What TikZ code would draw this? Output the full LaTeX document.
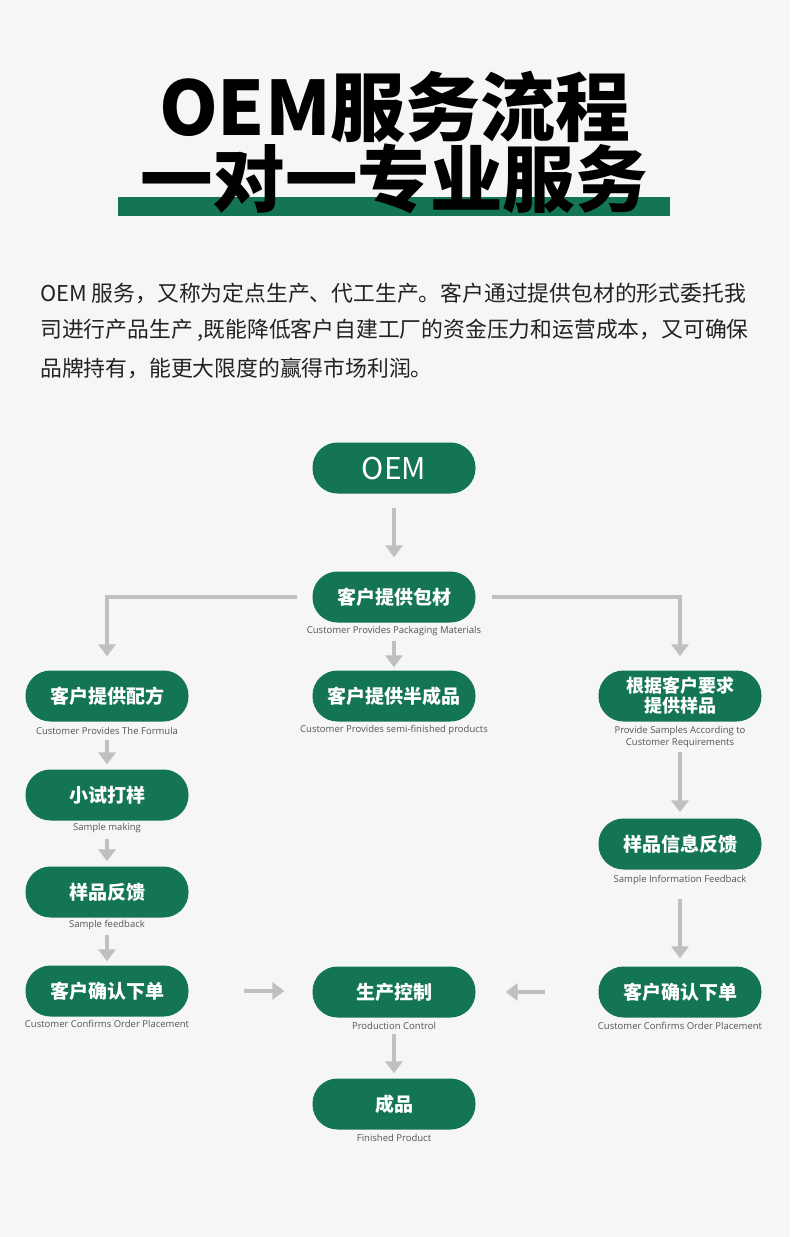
\documentclass[tikz,border=0pt]{standalone}
\usepackage{fontspec}
\setmainfont{Open Sans}
\newfontfamily\cjk{Noto Sans CJK SC}
\usetikzlibrary{arrows.meta}
\definecolor{bg}{RGB}{246,246,246}
\definecolor{gr}{RGB}{19,117,82}
\definecolor{ar}{RGB}{192,192,192}
\definecolor{tx}{RGB}{34,34,34}
\definecolor{subc}{RGB}{85,85,85}
\begin{document}
\begin{tikzpicture}[x=1pt,y=-1pt,
  pill/.style={fill=gr, rounded corners=25pt, minimum width=163pt, minimum height=51pt,
    inner sep=0pt, text=white, font=\cjk\bfseries\fontsize{19}{22}\selectfont, align=center},
  sublbl/.style={text=subc, font=\fontsize{9.5}{12}\selectfont, inner sep=0pt, align=center},
  para/.style={text=tx, font=\cjk\fontsize{21.8}{24}\selectfont, inner sep=0pt, anchor=west},
  ttl/.style={text=black, font=\cjk\bfseries\fontsize{75}{80}\selectfont, inner sep=0pt},
  flow/.style={draw=ar, line width=4pt, -{Triangle[width=17pt,length=12pt]}}]
\useasboundingbox (0,0) rectangle (790,1237);
\fill[bg] (0,0) rectangle (790,1237);
% title
\fill[gr] (118,197) rectangle (670,216);
\node[ttl] (t1) at (395,107) {OEM服务流程};
\node[ttl, font=\cjk\bfseries\fontsize{72.5}{80}\selectfont] (t2) at (394,179) {一对一专业服务};
% paragraph
\node[para] (p1) at (40,293) {OEM 服务，又称为定点生产、代工生产。客户通过提供包材的形式委托我};
\node[para] (p2) at (40,330) {司进行产品生产 ,既能降低客户自建工厂的资金压力和运营成本，又可确保};
\node[para] (p3) at (40,368) {品牌持有，能更大限度的赢得市场利润。};
% flow nodes
\node[pill, font=\cjk\fontsize{30}{32}\selectfont] (oem) at (394,468) {OEM};
\node[pill] (b) at (394,597) {客户提供包材};
\node[sublbl] (bl) at (394,631) {Customer Provides Packaging Materials};
\node[pill] (f) at (107,696) {客户提供配方};
\node[sublbl] (fl) at (107,731) {Customer Provides The Formula};
\node[pill] (m) at (394,696) {客户提供半成品};
\node[sublbl] (ml) at (394,730) {Customer Provides semi-finished products};
\node[pill, font=\cjk\bfseries\fontsize{18}{20}\selectfont] (r1) at (680,696) {根据客户要求\\提供样品};
\node[sublbl] (r1l) at (680,737) {Provide Samples According to\\Customer Requirements};
\node[pill] (g) at (107,795) {小试打样};
\node[sublbl] (gl) at (107,828) {Sample making};
\node[pill] (h) at (107,892) {样品反馈};
\node[sublbl] (hl) at (107,925) {Sample feedback};
\node[pill] (i) at (107,991) {客户确认下单};
\node[sublbl] (il) at (107,1024) {Customer Confirms Order Placement};
\node[pill] (r2) at (680,844) {样品信息反馈};
\node[sublbl] (r2l) at (680,880) {Sample Information Feedback};
\node[pill] (r3) at (680,992) {客户确认下单};
\node[sublbl] (r3l) at (680,1026) {Customer Confirms Order Placement};
\node[pill] (p) at (394,992) {生产控制};
\node[sublbl] (pl) at (394,1026) {Production Control};
\node[pill] (e) at (394,1104) {成品};
\node[sublbl] (el) at (394,1138) {Finished Product};
% connectors
\draw[flow, shorten <=14pt, shorten >=14pt] (oem.south) -- (b.north);
\draw[flow, shorten <=15pt, shorten >=14pt] (b.west) -| (f.north);
\draw[flow, shorten <=16pt, shorten >=14pt] (b.east) -| (r1.north);
\draw[flow, shorten <=18pt, shorten >=3pt] (b.south) -- (m.north);
\draw[flow, shorten <=18pt, shorten >=5pt] (f.south) -- (g.north);
\draw[flow, shorten <=18pt, shorten >=5pt] (g.south) -- (h.north);
\draw[flow, shorten <=17pt, shorten >=4pt] (h.south) -- (i.north);
\draw[flow, shorten <=30pt, shorten >=6pt] (r1.south) -- (r2.north);
\draw[flow, shorten <=29pt, shorten >=8pt] (r2.south) -- (r3.north);
\draw[flow, shorten <=55pt, shorten >=28pt] (i.east) -- (i.east -| p.west);
\draw[flow, shorten <=53pt, shorten >=30pt] (r3.west) -- (r3.west -| p.east);
\draw[flow, shorten <=16pt, shorten >=5pt] (p.south) -- (e.north);
\end{tikzpicture}
\end{document}
